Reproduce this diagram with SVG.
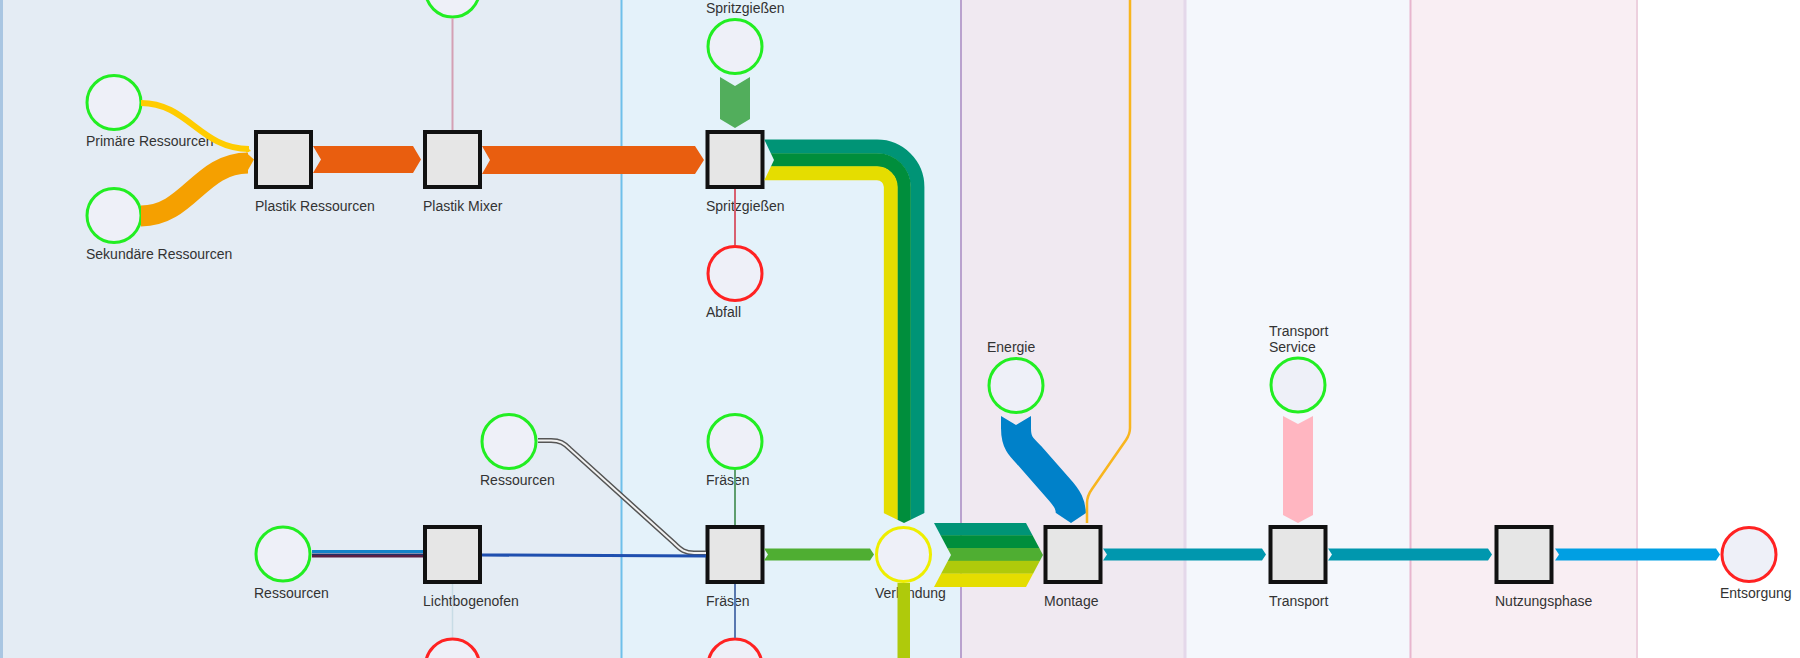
<svg xmlns="http://www.w3.org/2000/svg" width="1800" height="658" viewBox="0 0 1800 658">
<style>
.lbl{font-family:"Liberation Sans",Arial,sans-serif;font-size:14px;fill:#333}
.sq{fill:#E6E6E6;stroke:#111;stroke-width:4}
.cg{fill:#EEF0F8;stroke:#22EE22;stroke-width:3}
.cr{fill:#EEF0F8;stroke:#FF2222;stroke-width:3}
.cy{fill:#EEF0F8;stroke:#EEEE00;stroke-width:3}
.thin{fill:none;stroke-width:2}
.band{fill:none;stroke-linecap:butt}
</style>
<defs>
<clipPath id="clipSpr"><path d="M764,139 L960,139 L960,513 L924.5,513 L904,523 L883.5,513 L850,513 L850,195 L764,195 L764,181 L774,160 Z"/></clipPath>
<clipPath id="clipVerb"><path d="M934,523 L1026,523 L1043,555 L1026,587 L934,587 L951,555 Z"/></clipPath>
<clipPath id="clipEn"><path d="M990,416 L1001,416 L1016,425 L1031,416 L1100,416 L1100,513 L1086,513 L1071,523 L1056,513 L990,513 Z"/></clipPath>
</defs>
<g id="lanes">
<rect x="0" y="0" width="1800" height="658" fill="#FFFFFF"/>
<rect x="0" y="0" width="621" height="658" fill="#E4ECF4"/>
<rect x="621" y="0" width="339" height="658" fill="#E4F2FA"/>
<rect x="960" y="0" width="225" height="658" fill="#F0E9F1"/>
<rect x="1185" y="0" width="225" height="658" fill="#F4F7FC"/>
<rect x="1410" y="0" width="227" height="658" fill="#F9EEF3"/>
<line x1="1.5" y1="0" x2="1.5" y2="658" stroke="#A9C6E2" stroke-width="3"/>
<line x1="621.5" y1="0" x2="621.5" y2="658" stroke="#6EC0EA" stroke-width="2"/>
<line x1="961" y1="0" x2="961" y2="658" stroke="#B9A2CE" stroke-width="2"/>
<line x1="1185" y1="0" x2="1185" y2="658" stroke="#E4D8EA" stroke-width="3"/>
<line x1="1410.5" y1="0" x2="1410.5" y2="658" stroke="#E8B6CE" stroke-width="2"/>
<line x1="1637" y1="0" x2="1637" y2="658" stroke="#EDD0DE" stroke-width="2"/>
</g>
<g id="n_prim"><circle class="cg" cx="114" cy="102.5" r="27"/><text class="lbl" x="86" y="146">Primäre Ressourcen</text></g>
<g id="n_sek"><circle class="cg" cx="114" cy="215.5" r="27"/><text class="lbl" x="86" y="259">Sekundäre Ressourcen</text></g>
<g id="n_plres"><rect class="sq" x="256" y="132" width="55" height="55"/><text class="lbl" x="255" y="211">Plastik Ressourcen</text></g>
<g id="n_mix_in"><circle class="cg" cx="452.5" cy="-10" r="27"/></g>
<g id="n_mix"><rect class="sq" x="425" y="132" width="55" height="55"/><text class="lbl" x="423" y="211">Plastik Mixer</text></g>
<g id="n_spr_in"><circle class="cg" cx="735" cy="46.5" r="27"/><text class="lbl" x="706" y="13">Spritzgießen</text></g>
<g id="n_spr"><rect class="sq" x="707.5" y="132" width="55" height="55"/><text class="lbl" x="706" y="211">Spritzgießen</text></g>
<g id="n_abfall"><circle class="cr" cx="735" cy="273.5" r="27"/><text class="lbl" x="706" y="317">Abfall</text></g>
<g id="n_res2"><circle class="cg" cx="509" cy="441.5" r="27"/><text class="lbl" x="480" y="485">Ressourcen</text></g>
<g id="n_fr_in"><circle class="cg" cx="735" cy="441.5" r="27"/><text class="lbl" x="706" y="485">Fräsen</text></g>
<g id="n_res1"><circle class="cg" cx="283" cy="554" r="27"/><text class="lbl" x="254" y="598">Ressourcen</text></g>
<g id="n_lbo"><rect class="sq" x="425" y="527" width="55" height="55"/><text class="lbl" x="423" y="606">Lichtbogenofen</text></g>
<g id="n_lbo_out"><circle class="cr" cx="452.5" cy="666" r="27"/></g>
<g id="n_fr"><rect class="sq" x="707.5" y="527" width="55" height="55"/><text class="lbl" x="706" y="606">Fräsen</text></g>
<g id="n_fr_out"><circle class="cr" cx="735" cy="666" r="27"/></g>
<g id="n_verb"><circle class="cy" cx="903.5" cy="554.5" r="27"/><text class="lbl" x="875" y="598">Verbindung</text></g>
<g id="n_energie"><circle class="cg" cx="1016" cy="385.5" r="27"/><text class="lbl" x="987" y="352">Energie</text></g>
<g id="n_mont"><rect class="sq" x="1045.5" y="527" width="55" height="55"/><text class="lbl" x="1044" y="606">Montage</text></g>
<g id="n_ts"><circle class="cg" cx="1298" cy="385" r="27"/><text class="lbl" x="1269" y="336">Transport</text><text class="lbl" x="1269" y="352">Service</text></g>
<g id="n_tr"><rect class="sq" x="1270.5" y="527" width="55" height="55"/><text class="lbl" x="1269" y="606">Transport</text></g>
<g id="n_nutz"><rect class="sq" x="1496.5" y="527" width="55" height="55"/><text class="lbl" x="1495" y="606">Nutzungsphase</text></g>
<g id="n_ents"><circle class="cr" cx="1749" cy="554.5" r="27"/><text class="lbl" x="1720" y="598">Entsorgung</text></g>
<g id="connectors">
<path class="band" d="M141,103 C188,103 200,149 249,149" stroke="#FFCC00" stroke-width="6"/>
<path class="band" d="M141,216 C188,216 200,163 248,163" stroke="#F5A000" stroke-width="21"/>
<polygon points="246,152.5 254,159.5 246,173.5" fill="#F5A000"/>
<polygon points="246,146 251,151 246,152.5" fill="#FFCC00"/>
<polygon points="313,146 413,146 421,159.5 413,173 313,173 321,159.5" fill="#E95E0F"/>
<polygon points="482,146 695,146 704,160 695,174 482,174 490,160" fill="#E95E0F"/>
<line class="thin" x1="452.5" y1="18" x2="452.5" y2="130" stroke="#D4A0B4"/>
<polygon points="720,77 735,86 750,77 750,119 735,128 720,119" fill="#52AE5C"/>
<line class="thin" x1="735" y1="189" x2="735" y2="245" stroke="#D86070"/>
<g clip-path="url(#clipSpr)">
<path class="band" d="M764,146.5 L877,146.5 A40.5,40.5 0 0 1 917.5,187 L917.5,530" stroke="#009476" stroke-width="13.8"/>
<path class="band" d="M764,160 L877,160 A27,27 0 0 1 904,187 L904,530" stroke="#008E3C" stroke-width="13.6"/>
<path class="band" d="M764,173.25 L877,173.25 A13.75,13.75 0 0 1 890.75,187 L890.75,530" stroke="#E5DD00" stroke-width="13.8"/>
</g>
<line class="thin" x1="735" y1="470" x2="735" y2="525" stroke="#5E9E6E"/>
<path d="M538,440.5 L551,440.5 C560,440.5 564,443 570,449 L674,543 C681,550 685,553 694,553 L706,553" fill="none" stroke="#555" stroke-width="5"/>
<path d="M538,440.5 L551,440.5 C560,440.5 564,443 570,449 L674,543 C681,550 685,553 694,553 L706,553" fill="none" stroke="#F2F2F2" stroke-width="2"/>
<line x1="312" y1="551.5" x2="423" y2="551.5" stroke="#1483C8" stroke-width="3"/>
<line x1="312" y1="554.3" x2="423" y2="554.3" stroke="#22306A" stroke-width="1.5"/>
<line x1="312" y1="556.3" x2="423" y2="556.3" stroke="#5B2045" stroke-width="2.5"/>
<path d="M482,555 L706,556" fill="none" stroke="#1F4FAF" stroke-width="3"/>
<line x1="452.5" y1="584" x2="452.5" y2="637" stroke="#C8DCE6" stroke-width="1.5"/>
<line class="thin" x1="735" y1="584" x2="735" y2="638" stroke="#5878B0"/>
<polygon points="764,548.5 870,548.5 874,554.5 870,560.5 764,560.5 768,554.5" fill="#4FAE32"/>
<rect x="897.5" y="583" width="12.5" height="80" fill="#AFCA0B"/>
<g clip-path="url(#clipVerb)">
<rect x="930" y="522" width="120" height="13.4" fill="#009476"/>
<rect x="930" y="535.2" width="120" height="13" fill="#008E3C"/>
<rect x="930" y="548" width="120" height="13" fill="#4FAE32"/>
<rect x="930" y="560.8" width="120" height="13" fill="#AFCA0B"/>
<rect x="930" y="573.6" width="120" height="14" fill="#E5DD00"/>
</g>
<g clip-path="url(#clipEn)">
<path class="band" d="M1016,410 L1016,428 C1016,442 1020,446 1030,456 L1058,488 C1068,499 1071,505 1071,515 L1071,530" stroke="#0081C9" stroke-width="30"/>
</g>
<path d="M1130,0 L1130,428 Q1130,434 1126,440 L1092,489 Q1087,496 1087,503 L1087,523" fill="none" stroke="#F8B51E" stroke-width="2.5"/>
<polygon points="1283,416 1298,424 1313,416 1313,515 1298,523 1283,515" fill="#FFB6C1"/>
<polygon points="1103,548.5 1262,548.5 1266,554.5 1262,560.5 1103,560.5 1107,554.5" fill="#0097AE"/>
<polygon points="1328,548.5 1488,548.5 1492,554.5 1488,560.5 1328,560.5 1332,554.5" fill="#0097AE"/>
<polygon points="1555,548.5 1716,548.5 1720,554.5 1716,560.5 1555,560.5 1559,554.5" fill="#009FE3"/>
</g>
</svg>
